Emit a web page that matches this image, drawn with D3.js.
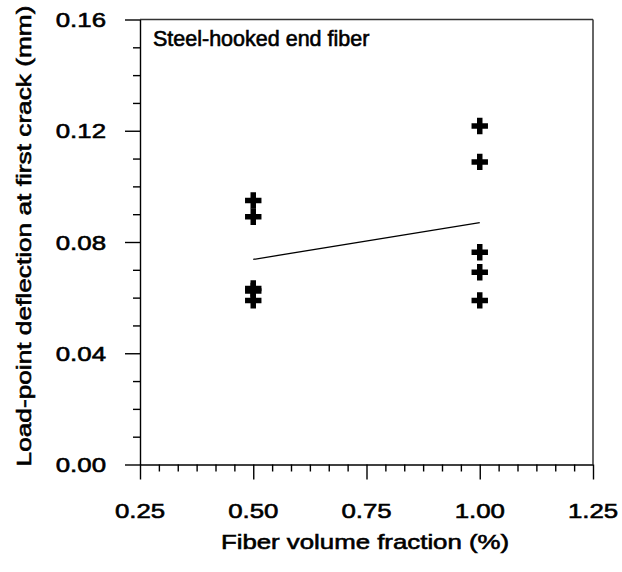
<!DOCTYPE html>
<html>
<head>
<meta charset="utf-8">
<script src="https://cdn.jsdelivr.net/npm/d3@7"></script>
<style>
  html, body { margin: 0; padding: 0; background: #fff; }
  svg { display: block; }
  text { font-family: "Liberation Sans", Arial, sans-serif; fill: #000; stroke: #000; stroke-width: 0.6px; }
</style>
</head>
<body>
<svg id="chart" width="622" height="572"></svg>
<script>
// Fiber volume fraction (%) for each specimen
const fiberFraction = [0.5, 0.5, 0.5, 0.5, 0.5, 1.0, 1.0, 1.0, 1.0, 1.0];
// Load-point deflection at first crack (mm)
const deflection = [0.0949, 0.0891, 0.0633, 0.0624, 0.0590,
                    0.1217, 0.1088, 0.0763, 0.0691, 0.0590];

const xTickLabels = ["0.25", "0.50", "0.75", "1.00", "1.25"];
const yTickLabels = ["0.00", "0.04", "0.08", "0.12", "0.16"];
const xMinorStep = 0.25 / 6;
const yMinorStep = 0.01;

const xTitle = "Fiber volume fraction (%)";
const yTitle = "Load-point deflection at first crack (mm)";
const panelLabel = "Steel-hooked end fiber";

const svg = d3.select("#chart");
const stretch = 1.23;   // axis lettering is set wide

const x = d3.scaleLinear().domain([0.25, 1.25]).range([140, 593]);
const y = d3.scaleLinear().domain([0, 0.16]).range([464.5, 19.5]);

const xMajor = xTickLabels.map(Number);
const yMajor = yTickLabels.map(Number);
const xMinor = d3.range(0, 25).map(i => 0.25 + i * xMinorStep)
  .filter(v => !xMajor.some(m => Math.abs(m - v) < 1e-6));
const yMinor = d3.range(0, 17).map(i => i * yMinorStep)
  .filter(v => !yMajor.some(m => Math.abs(m - v) < 1e-6));

// frame: top and right edges
svg.append("line")
  .attr("x1", x(0.25)).attr("x2", x(1.25))
  .attr("y1", y(0.16)).attr("y2", y(0.16))
  .attr("stroke", "#333").attr("stroke-width", 1.5);
svg.append("line")
  .attr("x1", x(1.25)).attr("x2", x(1.25))
  .attr("y1", y(0.16)).attr("y2", y(0))
  .attr("stroke", "#333").attr("stroke-width", 1.5);

// bottom axis with major and minor ticks
const gx = svg.append("g").attr("transform", `translate(0,${y(0)})`);
gx.call(d3.axisBottom(x).tickValues(xMajor).tickSize(15).tickSizeOuter(0).tickFormat(""));
gx.call(g => g.append("g").call(d3.axisBottom(x).tickValues(xMinor).tickSize(7).tickFormat(""))
  .call(s => s.select(".domain").remove()));
gx.selectAll("path, line").attr("stroke", "#000").attr("stroke-width", 1.4);

// left axis with major and minor ticks
const gy = svg.append("g").attr("transform", `translate(${x(0.25)},0)`);
gy.call(d3.axisLeft(y).tickValues(yMajor).tickSize(15).tickSizeOuter(0).tickFormat(""));
gy.call(g => g.append("g").call(d3.axisLeft(y).tickValues(yMinor).tickSize(7).tickFormat(""))
  .call(s => s.select(".domain").remove()));
gy.selectAll("path, line").attr("stroke", "#000").attr("stroke-width", 1.4);

// tick labels
svg.append("g").selectAll("text").data(xTickLabels).join("text")
  .attr("transform", d => `translate(${x(+d)},518) scale(${stretch},1)`)
  .attr("text-anchor", "middle")
  .attr("font-size", 21)
  .text(d => d);

svg.append("g").selectAll("text").data(yTickLabels).join("text")
  .attr("transform", d => `translate(106,${y(+d) + 7.5}) scale(${stretch},1)`)
  .attr("text-anchor", "end")
  .attr("font-size", 21)
  .text(d => d);

// axis titles
svg.append("text")
  .attr("transform", `translate(365,549) scale(${stretch},1)`)
  .attr("text-anchor", "middle")
  .attr("font-size", 21)
  .text(xTitle);

svg.append("text")
  .attr("transform", `translate(31,236) rotate(-90) scale(1.25,1)`)
  .attr("text-anchor", "middle")
  .attr("font-size", 21)
  .text(yTitle);

// panel label
svg.append("text")
  .attr("x", 153).attr("y", 46)
  .attr("font-size", 21.5)
  .text(panelLabel);

// least-squares fit over the plotted specimens
const pts = fiberFraction.map((f, i) => ({ f, d: deflection[i] }));
const mx = d3.mean(pts, p => p.f), my = d3.mean(pts, p => p.d);
const slope = d3.sum(pts, p => (p.f - mx) * (p.d - my)) / d3.sum(pts, p => (p.f - mx) ** 2);
const intercept = my - slope * mx;
const fitRange = d3.extent(fiberFraction);
svg.append("path")
  .datum(fitRange.map(f => [f, intercept + slope * f]))
  .attr("d", d3.line().x(d => x(d[0])).y(d => y(d[1])))
  .attr("fill", "none").attr("stroke", "#000").attr("stroke-width", 1.3);

// specimen markers
svg.append("g").selectAll("path").data(pts).join("path")
  .attr("transform", p => `translate(${x(p.f)},${y(p.d)})`)
  .attr("d", d3.symbol(d3.symbolCross, 150))
  .attr("fill", "#000");
</script>
</body>
</html>
